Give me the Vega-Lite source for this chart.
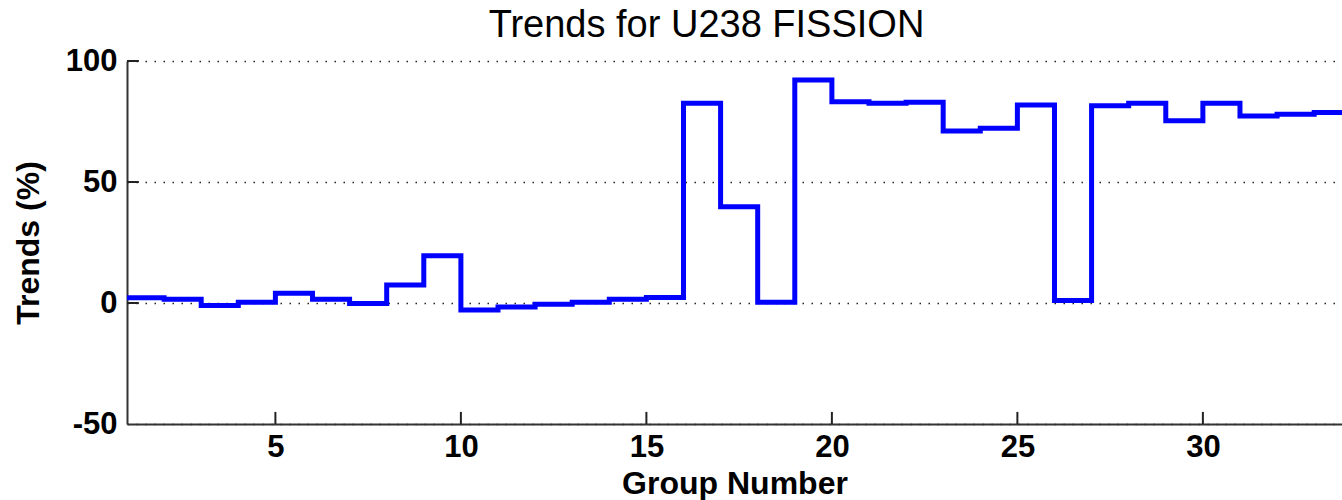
{
  "$schema": "https://vega.github.io/schema/vega-lite/v6.json",
  "autosize": {"type": "none"},
  "padding": {"left": 127, "top": 61, "right": 0, "bottom": 76},
  "width": 1215,
  "height": 363,
  "background": "white",
  "title": {
    "text": "Trends for U238 FISSION",
    "font": "Liberation Sans",
    "fontSize": 38,
    "fontWeight": "normal",
    "color": "black",
    "anchor": "middle",
    "frame": "group",
    "baseline": "alphabetic",
    "offset": -30,
    "dx": -28
  },
  "config": {
    "view": {"stroke": null},
    "axis": {
      "labelFont": "Liberation Sans",
      "labelFontWeight": "bold",
      "labelFontSize": 31,
      "labelColor": "black",
      "titleFont": "Liberation Sans",
      "titleFontWeight": "bold",
      "titleFontSize": 32,
      "titleColor": "black",
      "domainColor": "#333333",
      "domainWidth": 2,
      "ticks": false
    }
  },
  "datasets": {
    "trends": [
      {"group": 1, "trend": 2.2},
      {"group": 2, "trend": 1.5},
      {"group": 3, "trend": -1.0},
      {"group": 4, "trend": 0.3},
      {"group": 5, "trend": 4.0},
      {"group": 6, "trend": 1.5},
      {"group": 7, "trend": -0.2},
      {"group": 8, "trend": 7.4},
      {"group": 9, "trend": 19.5},
      {"group": 10, "trend": -2.9},
      {"group": 11, "trend": -1.7},
      {"group": 12, "trend": -0.5},
      {"group": 13, "trend": 0.3},
      {"group": 14, "trend": 1.6},
      {"group": 15, "trend": 2.3},
      {"group": 16, "trend": 82.5},
      {"group": 17, "trend": 39.8},
      {"group": 18, "trend": 0.3},
      {"group": 19, "trend": 92.1},
      {"group": 20, "trend": 83.2},
      {"group": 21, "trend": 82.5},
      {"group": 22, "trend": 83.0},
      {"group": 23, "trend": 71.1},
      {"group": 24, "trend": 72.2},
      {"group": 25, "trend": 81.8},
      {"group": 26, "trend": 1.0},
      {"group": 27, "trend": 81.5},
      {"group": 28, "trend": 82.5},
      {"group": 29, "trend": 75.3},
      {"group": 30, "trend": 82.5},
      {"group": 31, "trend": 77.3},
      {"group": 32, "trend": 78.0},
      {"group": 33, "trend": 78.7},
      {"group": 34, "trend": 78.7}
    ],
    "xticks": [{"tick": 5}, {"tick": 10}, {"tick": 15}, {"tick": 20}, {"tick": 25}, {"tick": 30}],
    "yticks": [{"tick": 0}, {"tick": 50}, {"tick": 100}]
  },
  "encoding": {
    "x": {
      "type": "quantitative",
      "scale": {"domain": [1, 33.75], "nice": false, "zero": false},
      "axis": {
        "title": "Group Number",
        "values": [5, 10, 15, 20, 25, 30],
        "grid": false,
        "labelPadding": 8,
        "titlePadding": 6
      }
    },
    "y": {
      "type": "quantitative",
      "scale": {"domain": [-50, 100], "nice": false, "zero": false},
      "axis": {
        "title": "Trends (%)",
        "values": [-50, 0, 50, 100],
        "labelExpr": "'' + datum.value",
        "grid": true,
        "gridColor": "#222222",
        "gridWidth": 1.5,
        "gridDash": [1.5, 7.5],
        "labelPadding": 10,
        "titlePadding": 20
      }
    }
  },
  "layer": [
    {
      "data": {"name": "xticks"},
      "mark": {"type": "rule", "color": "#222222", "strokeWidth": 2},
      "encoding": {
        "x": {"field": "tick"},
        "y": {"datum": -50},
        "y2": {"datum": -45}
      }
    },
    {
      "data": {"name": "yticks"},
      "mark": {"type": "rule", "color": "#222222", "strokeWidth": 2},
      "encoding": {
        "y": {"field": "tick"},
        "x": {"datum": 1},
        "x2": {"datum": 1.32}
      }
    },
    {
      "data": {"name": "trends"},
      "mark": {"type": "line", "interpolate": "step-after", "color": "#0000FF", "strokeWidth": 5, "clip": true, "strokeJoin": "miter"},
      "encoding": {
        "x": {"field": "group"},
        "y": {"field": "trend"}
      }
    }
  ]
}
